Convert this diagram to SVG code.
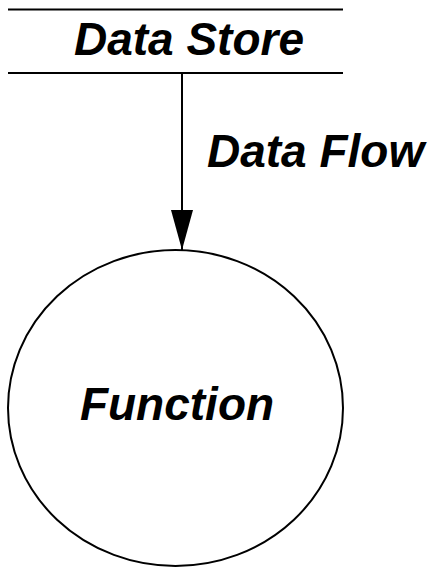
<svg xmlns="http://www.w3.org/2000/svg" width="433" height="567" viewBox="0 0 433 567">
<style>
.ln{stroke:#000;stroke-width:2;fill:none}
.lbl{font-family:"Liberation Sans",Arial,sans-serif;font-weight:bold;font-style:italic;font-size:46px;fill:#000}
</style>
<defs>
<marker id="ah" markerUnits="userSpaceOnUse" markerWidth="24" markerHeight="42" refX="11" refY="40" orient="auto-start-reverse" viewBox="0 0 24 42">
<polygon points="0,0 22,0 11,40" fill="#000"/>
</marker>
</defs>
<rect width="433" height="567" fill="#fff"/>
<g id="datastore">
<line class="ln" x1="8" y1="9.5" x2="343" y2="9.5"/>
<line class="ln" x1="8" y1="73" x2="343" y2="73"/>
<text class="lbl" x="189" y="55" text-anchor="middle">Data Store</text>
</g>
<g id="function">
<ellipse class="ln" cx="175.5" cy="408" rx="167.5" ry="158"/>
<text class="lbl" x="177" y="420" text-anchor="middle">Function</text>
</g>
<g id="connectors">
<path d="M182,73 V250" stroke="#000" stroke-width="2" fill="none"/>
<polygon points="171,210 193,210 182,250" fill="#000"/>
<text class="lbl" x="207" y="167">Data Flow</text>
</g>
</svg>
